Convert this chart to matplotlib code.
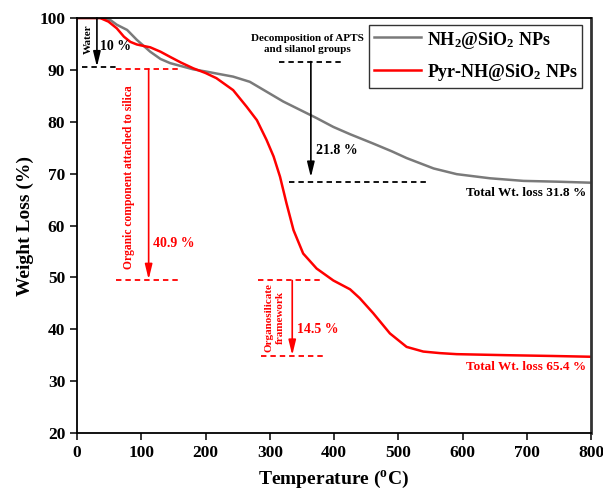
import matplotlib
matplotlib.use('Agg')
import matplotlib.pyplot as plt

plt.rcParams['font.family'] = 'Liberation Serif'
plt.rcParams['font.weight'] = 'bold'
plt.rcParams['axes.labelweight'] = 'bold'
plt.rcParams['mathtext.fontset'] = 'custom'
plt.rcParams['mathtext.rm'] = 'Liberation Serif:bold'
plt.rcParams['mathtext.bf'] = 'Liberation Serif:bold'
plt.rcParams['mathtext.it'] = 'Liberation Serif:italic:bold'

# NH2@SiO2 NPs (grey)
t_nh2 = [0, 20, 38, 52, 62, 78, 93, 104, 114, 130, 145, 160, 181, 200, 217,
         243, 269, 295, 321, 347, 373, 399, 425, 461, 490, 513, 555, 591, 643,
         695, 747, 800]
w_nh2 = [100, 100, 100, 99.6, 98.7, 97.7, 95.8, 94.6, 93.5, 92.1, 91.3, 90.8,
         90.1, 89.7, 89.3, 88.7, 87.7, 85.8, 83.9, 82.3, 80.7, 79.0, 77.6, 75.8,
         74.3, 73.0, 71.0, 69.9, 69.1, 68.6, 68.45, 68.25]

# Pyr-NH@SiO2 NPs (red)
t_pyr = [0, 20, 36, 49, 62, 73, 83, 93, 104, 114, 130, 145, 162, 181, 200,
         217, 243, 264, 280, 295, 306, 316, 326, 337, 352, 373, 399, 425, 440,
         461, 487, 513, 539, 565, 591, 669, 740, 800]
w_pyr = [100, 100, 100, 99.3, 98.0, 96.4, 95.4, 94.9, 94.6, 94.35, 93.5, 92.5,
         91.4, 90.3, 89.4, 88.4, 86.1, 82.9, 80.3, 76.5, 73.3, 69.4, 64.3, 59.1,
         54.6, 51.7, 49.4, 47.7, 46.0, 43.1, 39.2, 36.6, 35.7, 35.4, 35.2, 35.0,
         34.85, 34.7]

labels = [r'NH$_2$@SiO$_2$ NPs', r'Pyr-NH@SiO$_2$ NPs']
xticks = [0, 100, 200, 300, 400, 500, 600, 700, 800]
yticks = [20, 30, 40, 50, 60, 70, 80, 90, 100]

fig = plt.figure(figsize=(6.03, 4.92), dpi=100)
ax = fig.add_axes([0.1277, 0.1199, 0.8524, 0.8435])

ax.plot(t_nh2, w_nh2, c='#7a7a7a', lw=1.8, label=labels[0],
        solid_joinstyle='round')
ax.plot(t_pyr, w_pyr, c='red', lw=1.8, label=labels[1],
        solid_joinstyle='round')

dash = (0, (3, 2.2))
arrow_kw = dict(arrowstyle='-|>,head_length=0.9,head_width=0.22', lw=1.2,
                shrinkA=0, shrinkB=0)

# water loss
ax.plot([8, 61], [90.5, 90.5], c='k', ls=dash, lw=1.3)
ax.annotate('', xy=(31, 90.6), xytext=(31, 100),
            arrowprops=dict(color='k', **arrow_kw))
ax.text(17, 95.9, 'Water', rotation=90, ha='center', va='center', fontsize=8)
ax.text(36, 94.5, '10 %', ha='left', va='center', fontsize=10)

# organic component
ax.plot([61, 159], [90.2, 90.2], c='red', ls=dash, lw=1.3)
ax.plot([61, 157], [49.5, 49.5], c='red', ls=dash, lw=1.3)
ax.annotate('', xy=(111.5, 49.6), xytext=(111.5, 90.2),
            arrowprops=dict(color='red', **arrow_kw))
ax.text(81, 69.3, 'Organic component attached to silica', rotation=90,
        ha='center', va='center', fontsize=8.3, color='red')
ax.text(118, 56.6, '40.9 %', ha='left', va='center', fontsize=10, color='red')

# organosilicate framework
ax.plot([282, 381], [49.4, 49.4], c='red', ls=dash, lw=1.3)
ax.plot([287, 386], [34.9, 34.9], c='red', ls=dash, lw=1.3)
ax.annotate('', xy=(335, 35.0), xytext=(335, 49.4),
            arrowprops=dict(color='red', **arrow_kw))
ax.text(307.5, 42.3, 'Organosilicate\nframework', rotation=90, ha='center',
        va='center', multialignment='center', fontsize=8, color='red',
        linespacing=1.35)
ax.text(343, 40.0, '14.5 %', ha='left', va='center', fontsize=10, color='red')

# APTS decomposition
ax.plot([314, 412], [91.6, 91.6], c='k', ls=dash, lw=1.3)
ax.plot([330, 546], [68.3, 68.3], c='k', ls=dash, lw=1.3)
ax.annotate('', xy=(364, 69.3), xytext=(364, 91.6),
            arrowprops=dict(color='k', **arrow_kw))
ax.text(359, 95.0, 'Decomposition of APTS\nand silanol groups', ha='center',
        va='center', multialignment='center', fontsize=8, linespacing=1.25)
ax.text(372, 74.4, '21.8 %', ha='left', va='center', fontsize=10)

ax.text(793, 66.2, 'Total Wt. loss 31.8 %', ha='right', va='center', fontsize=9.5)
ax.text(793, 32.7, 'Total Wt. loss 65.4 %', ha='right', va='center',
        fontsize=9.5, color='red')

ax.set_xlim(0, 800)
ax.set_ylim(20, 100)
ax.set_xticks(xticks)
ax.set_yticks(yticks)
ax.tick_params(direction='out', length=5, width=1.1, labelsize=12.5,
               top=False, right=False)
for s in ax.spines.values():
    s.set_linewidth(1.3)
ax.spines['right'].set_color('#333333')
ax.spines['right'].set_linewidth(2)

ax.set_xlabel(r'Temperature ($^{\mathrm{o}}$C)', fontsize=14, labelpad=6)
ax.set_ylabel('Weight Loss (%)', fontsize=14, labelpad=4)

leg = ax.legend(loc='upper right', bbox_to_anchor=(0.9825, 0.983),
                borderaxespad=0, fontsize=13, fancybox=False,
                edgecolor='black', handlelength=2.65, handletextpad=0.3,
                borderpad=0.25, labelspacing=0.65, handleheight=1.1)
leg.get_frame().set_linewidth(1.0)

fig.savefig('out.png', dpi=100)
